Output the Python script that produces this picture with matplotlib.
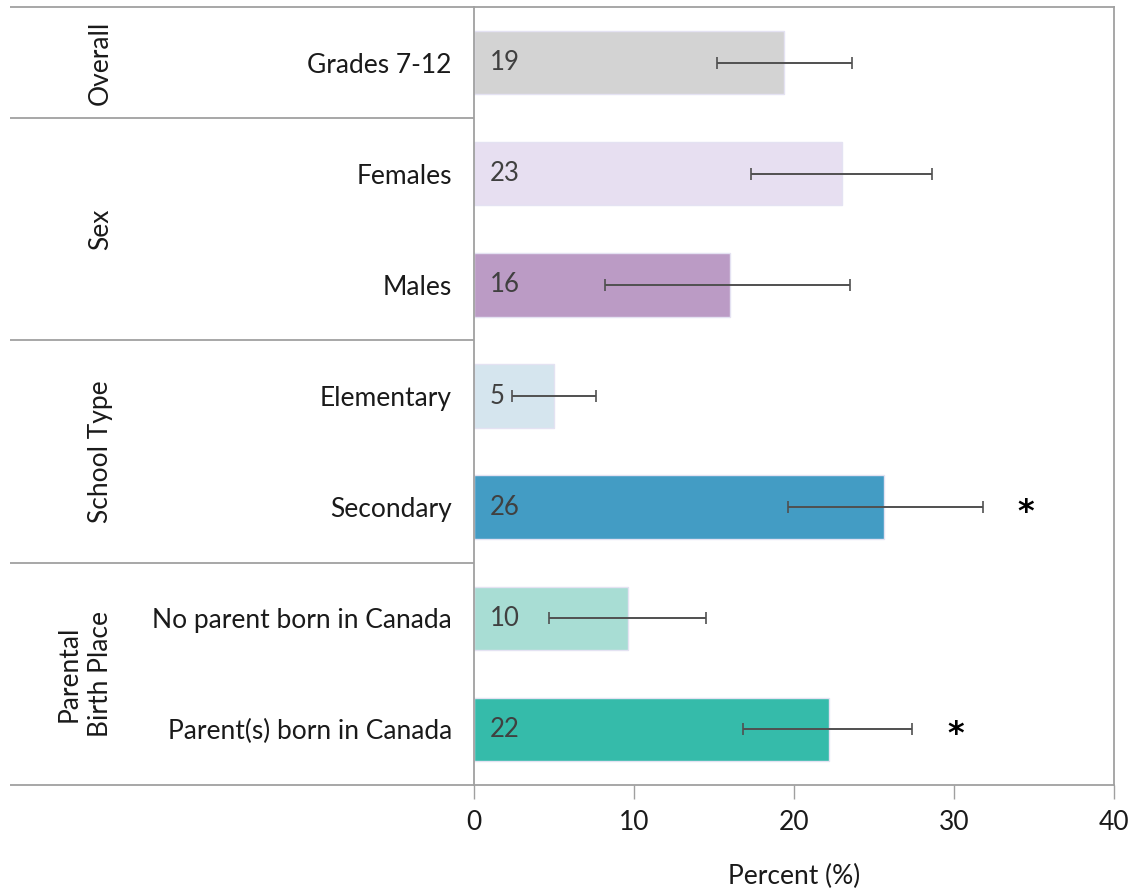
import matplotlib
matplotlib.use("Agg")
import matplotlib.pyplot as plt
import matplotlib.transforms as mtransforms

plt.rcParams['font.family'] = ['Lato', 'DejaVu Sans']

# Data
categories = ["Grades 7-12", "Females", "Males", "Elementary", "Secondary",
              "No parent born in Canada", "Parent(s) born in Canada"]
values = [19.4, 23.0, 16.0, 5.0, 25.6, 9.6, 22.2]
ci_low = [15.2, 17.3, 8.2, 2.4, 19.6, 4.7, 16.8]
ci_high = [23.6, 28.6, 23.5, 7.6, 31.8, 14.5, 27.4]
significant = [False, False, False, False, True, False, True]
colors = ["#D3D3D3", "#E7DFF1", "#BB9BC5", "#D5E5EE", "#439CC4", "#A8DDD4", "#35BBAA"]

groups = ["Overall", "Sex", "School Type", "Parental\nBirth Place"]
group_sizes = [1, 2, 2, 2]

x_ticks = [0, 10, 20, 30, 40]
x_label = "Percent (%)"

FS = 19
fig = plt.figure(figsize=(11.35, 8.9), dpi=100)
ax = fig.add_axes([474 / 1135, 1 - 785 / 890, 640 / 1135, 778 / 890])

n = len(categories)
ypos = list(range(n))
xerr = [[v - lo for v, lo in zip(values, ci_low)],
        [hi - v for v, hi in zip(values, ci_high)]]

ax.barh(ypos, values, height=0.57, color=colors, edgecolor="#E4E2F2", linewidth=1.0, zorder=2)
ax.errorbar(values, ypos, xerr=xerr, fmt="none", ecolor="#505050",
            elinewidth=1.4, capsize=4.5, capthick=1.2, zorder=3)

for y, v in zip(ypos, values):
    ax.text(1.0, y, f"{round(v)}", ha="left", va="center", fontsize=18.5, color="#404040", zorder=4)

for y, hi, sig in zip(ypos, ci_high, significant):
    if sig:
        ax.text(hi + 2.7, y + 0.05, "*", ha="center", va="center", fontsize=23,
                fontweight="bold", color="black", family="DejaVu Sans")

ax.set_xlim(0, 40)
ax.set_ylim(n - 0.5, -0.5)
ax.set_xticks(x_ticks)
ax.set_xticklabels([str(t) for t in x_ticks], fontsize=FS, color="#1A1A1A")
ax.tick_params(axis="x", length=10, width=1, color="#A0A0A0", pad=8, direction="out")
ax.set_yticks(ypos)
ax.set_yticklabels(categories, fontsize=FS, color="#1A1A1A")
ax.tick_params(axis="y", length=0, pad=16)
ax.set_xlabel(x_label, fontsize=FS, color="#1A1A1A", labelpad=21)

spine_color = "#A0A0A0"
for s in ax.spines.values():
    s.set_color(spine_color)
    s.set_linewidth(1.3)

# Table-like lines extending to the left of the axes
left_x = -(474 - 10) / 640
trans = mtransforms.blended_transform_factory(ax.transAxes, ax.transData)
bounds = [-0.5]
for g in group_sizes:
    bounds.append(bounds[-1] + g)
for b in bounds:
    ax.plot([left_x, 0], [b, b], transform=trans, color=spine_color, lw=1.3,
            clip_on=False, solid_capstyle="butt")

# Group labels
for name, lo, hi in zip(groups, bounds[:-1], bounds[1:]):
    ax.text(-(474 - 113) / 640, (lo + hi) / 2, name, transform=trans, rotation=90,
            ha="right", va="center", fontsize=FS, color="#1A1A1A",
            multialignment="center", linespacing=1.3)

fig.savefig("out.png", dpi=100)
